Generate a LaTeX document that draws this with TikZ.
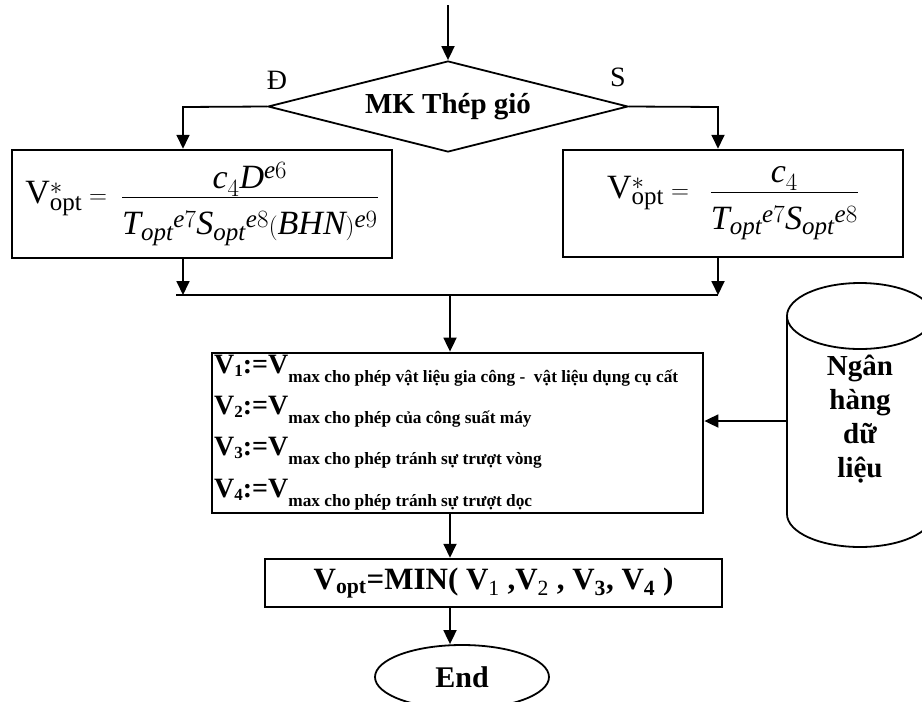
\documentclass[tikz,border=0pt]{standalone}
\usepackage{fontspec}
\setmainfont{Liberation Serif}
\usetikzlibrary{arrows.meta,shapes.geometric,calc}
\DeclareMathSizes{34}{34}{25}{19}
\tikzset{
  conn/.style={line width=1.8pt},
  arrowc/.style={conn,-{Triangle[length=14pt,width=13pt]}},
  boxs/.style={draw,line width=2.5pt,rectangle,inner sep=0pt},
}
\newcommand\mi[1]{\mathit{#1}}
\newcommand\numlow[1]{\raisebox{-7pt}{$\displaystyle #1$}}
\newcommand\denstrut{\rule{0pt}{36pt}}
\newcommand\vrow[2]{{\fontsize{28}{28}\selectfont V\raisebox{-3pt}{\fontsize{17}{17}\selectfont #1}:=V\raisebox{-9pt}{\fontsize{17.3}{17.3}\selectfont #2}}}
\begin{document}
\begin{tikzpicture}[x=1pt,y=-1pt]
\useasboundingbox (0,0) rectangle (922,702);
% decision
\node[draw,diamond,aspect=3.96,minimum width=360pt,minimum height=91pt,inner sep=0pt,line width=1.8pt,
      font=\fontsize{29}{29}\selectfont\bfseries] (dia) at (448,106.5) {MK Thép gió};
\coordinate (top) at (448,5);
\draw[arrowc] (top) -- (dia.north);
\node[font=\fontsize{28}{28}\selectfont] (lD) at (277,80) {Đ};
\node[font=\fontsize{28}{28}\selectfont] (lS) at (618,77) {S};
% formula boxes
\node[boxs,minimum width=380pt,minimum height=108pt,font=\fontsize{34}{38}\selectfont] (lb) at (202,204)
  {$\mathrm{V}^{*}_{\mathrm{opt}}=\;\displaystyle\frac{\numlow{\mi{c}_{4}\mi{D}^{\mi{e}6}}}{\denstrut\mi{T}_{\mi{opt}}{}^{\mi{e}7}\mi{S}_{\mi{opt}}{}^{\mi{e}8}(\mi{BHN})^{\mi{e}9}}$};
\node[boxs,minimum width=340pt,minimum height=107pt,font=\fontsize{34}{38}\selectfont] (rb) at (733,203.5)
  {$\mathrm{V}^{*}_{\mathrm{opt}}=\;\;\displaystyle\frac{\numlow{\mi{c}_{4}}}{\denstrut\mi{T}_{\mi{opt}}{}^{\mi{e}7}\mi{S}_{\mi{opt}}{}^{\mi{e}8}}$};
\coordinate (jl) at (183,107);
\coordinate (jr) at (718,107);
\draw[arrowc] (dia.west) -- (jl) -- (jl |- lb.north);
\draw[arrowc] (dia.east) -- (jr) -- (jr |- rb.north);
\coordinate (ml) at (183,295);
\coordinate (mr) at (718,295);
\coordinate (mlx) at (176,295);
\draw[conn] (mlx) -- (mr);
\draw[arrowc] (jl |- lb.south) -- (ml);
\draw[arrowc] (jr |- rb.south) -- (mr);
% middle box
\node[boxs,line width=2.8pt,minimum width=491pt,minimum height=160pt] (mid) at (457.5,433) {};
\node[anchor=base west,align=left,inner sep=0pt,font=\fontsize{28}{41.3}\selectfont\bfseries] (rows) at (214,497)
  {\vrow{1}{max cho phép vật liệu gia công -\ \ vật liệu dụng cụ cất}\\
   \vrow{2}{max cho phép của công suất máy}\\
   \vrow{3}{max cho phép tránh sự trượt vòng}\\
   \vrow{4}{max cho phép tránh sự trượt dọc}};
\coordinate (mc) at (450,295);
\draw[arrowc] (mc) -- (mc |- mid.north);
% database
\draw[conn] (787,316) -- (787,514) arc[start angle=180,end angle=0,x radius=73,y radius=33] -- (933,316);
\draw[conn] (860,316) ellipse[x radius=73,y radius=33];
\node[anchor=base,align=center,inner sep=0pt,font=\fontsize{29}{34}\selectfont\bfseries] (db) at (860,477)
  {Ngân\\hàng\\dữ\\liệu};
\coordinate (cyl) at (787,421);
\draw[arrowc] (cyl) -- (cyl -| mid.east);
% min box
\node[boxs,minimum width=457pt,minimum height=48pt,font=\fontsize{31}{31}\selectfont\bfseries] (minb) at (493.5,583)
  {V\textsubscript{opt}=MIN( V\textsubscript{\mdseries 1} ,V\textsubscript{\mdseries 2} , V\textsubscript{3}, V\textsubscript{4} )};
\draw[arrowc] (mc |- mid.south) -- (mc |- minb.north);
% end
\node[draw,ellipse,minimum width=174pt,minimum height=64pt,inner sep=0pt,line width=1.8pt,
      font=\fontsize{30}{30}\selectfont\bfseries] (endn) at (462,677) {End};
\draw[arrowc] (mc |- minb.south) -- (mc |- endn.north);
\end{tikzpicture}
\end{document}
